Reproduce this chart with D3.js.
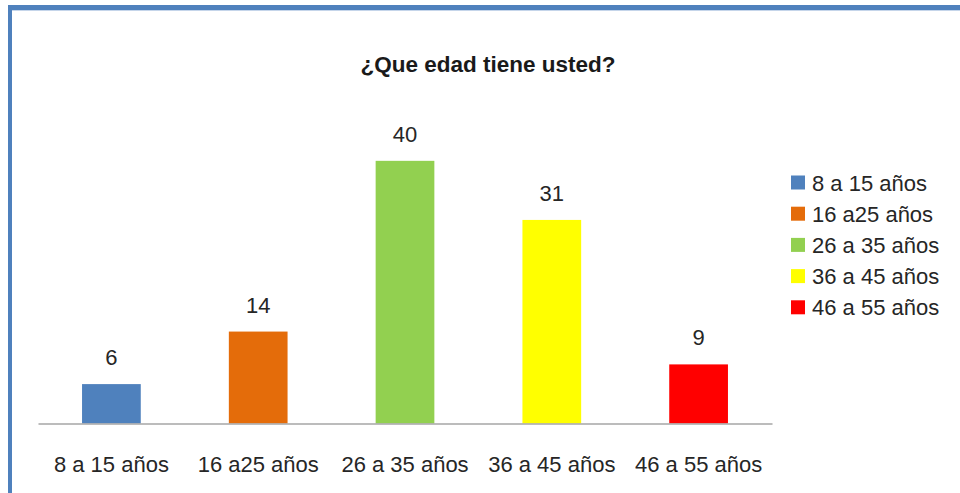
<!DOCTYPE html>
<html>
<head>
<meta charset="utf-8">
<script src="https://cdn.jsdelivr.net/npm/d3@7"></script>
<style>
  body { margin: 0; background: #fff; }
  svg { display: block; font-family: "Liberation Sans", Arial, sans-serif; }
</style>
</head>
<body>
<svg id="drawarea"></svg>
<script>
var categories = ["8 a 15 años", "16 a25 años", "26 a 35 años", "36 a 45 años", "46 a 55 años"];
var values = [6, 14, 40, 31, 9];
var colors = ["#4f81bd", "#e46c0a", "#92d050", "#ffff00", "#ff0000"];
var title = "¿Que edad tiene usted?";

var width = 960, height = 493;
var svg = d3.select("#drawarea").attr("width", width).attr("height", height);

// marco azul (arriba e izquierda)
svg.append("rect").attr("x", 8).attr("y", 5).attr("width", width).attr("height", 5).attr("fill", "#4f81bd");
svg.append("rect").attr("x", 8).attr("y", 5).attr("width", 4).attr("height", height).attr("fill", "#4f81bd");
svg.append("rect").attr("x", 12).attr("y", 10).attr("width", width).attr("height", 1).attr("fill", "#c5d5ea");

var x = d3.scaleBand().domain(categories).range([38, 772]);
var y = d3.scaleLinear().domain([0, 45]).range([423.5, 128]);
var barW = x.bandwidth() * 0.4;

svg.append("text")
    .attr("x", 488).attr("y", 72)
    .attr("text-anchor", "middle")
    .attr("font-size", 22.5).attr("font-weight", "bold")
    .attr("fill", "#1a1a1a")
    .text(title);

svg.selectAll("rect.bar")
    .data(values)
    .enter().append("rect")
    .attr("class", "bar")
    .attr("x", function(d, i){ return x(categories[i]) + x.bandwidth()/2 - barW/2; })
    .attr("y", function(d){ return y(d); })
    .attr("width", barW)
    .attr("height", function(d){ return y(0) - y(d); })
    .attr("fill", function(d, i){ return colors[i]; });

svg.selectAll("text.val")
    .data(values)
    .enter().append("text")
    .attr("class", "val")
    .attr("x", function(d, i){ return x(categories[i]) + x.bandwidth()/2; })
    .attr("y", function(d){ return y(d) - 19; })
    .attr("text-anchor", "middle")
    .attr("font-size", 22)
    .attr("fill", "#262626")
    .text(function(d){ return d; });

// eje x
var xAxis = svg.append("g")
    .attr("transform", "translate(0," + y(0) + ")")
    .call(d3.axisBottom(x).tickSize(0).tickPadding(48));
xAxis.select(".domain").attr("stroke", "#a6a6a6").attr("stroke-width", 1.5);
xAxis.selectAll("text")
    .attr("font-size", 22)
    .attr("font-family", "Liberation Sans, Arial, sans-serif")
    .attr("fill", "#262626")
    .attr("dy", "0");

// leyenda
var legend = svg.selectAll("g.legend")
    .data(categories)
    .enter().append("g")
    .attr("class", "legend")
    .attr("transform", function(d, i){ return "translate(791," + (182.5 + i * 31.2) + ")"; });
legend.append("rect")
    .attr("x", 0).attr("y", -7)
    .attr("width", 14).attr("height", 14)
    .attr("fill", function(d, i){ return colors[i]; });
legend.append("text")
    .attr("x", 21).attr("y", 8)
    .attr("font-size", 22)
    .attr("fill", "#262626")
    .text(function(d){ return d; });
</script>
</body>
</html>
